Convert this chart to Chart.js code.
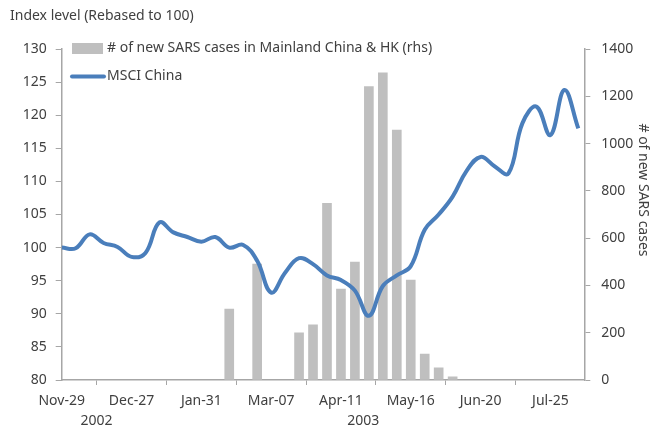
<!DOCTYPE html>
<html>
<head>
<meta charset="utf-8">
<script src="https://cdn.jsdelivr.net/npm/chart.js@4"></script>
<style>
  body { margin: 0; background: #fff; }
  #wrap { width: 663px; height: 428px; }
</style>
</head>
<body>
<div id="wrap"><canvas id="myChart"></canvas></div>
<script>
// weekly points, index 0 = first week on the axis
const msci = [100.0, 99.9, 102.0, 100.7, 100.1, 98.6, 99.2, 103.8, 102.3, 101.6,
  100.9, 101.6, 100.0, 100.4, 98.0, 93.2, 96.2, 98.4, 97.5, 95.8,
  95.1, 93.5, 89.7, 94.2, 95.8, 97.2, 102.7, 105.0, 107.7, 111.6,
  113.7, 112.3, 111.2, 118.8, 121.3, 117.0, 123.8, 118.0];

const sars = [null, null, null, null, null, null, null, null, null, null,
  null, null, 300, null, 490, null, null, 200, 233, 747,
  385, 499, 1241, 1299, 1057, 423, 110, 51, 13, null,
  null, null, null, null, null, null, null, null];

const tickLabels = ["Nov-29", "Dec-27", "Jan-31", "Mar-07", "Apr-11", "May-16", "Jun-20", "Jul-25"];
const yearLabels = ["2002", "2003"];

const FONT = "'Noto Sans', sans-serif";
const TXT = "#404040";
const AXIS = "#a6a6a6";

const extras = {
  id: "extras",
  afterDraw(chart) {
    const c = chart.ctx;
    const x = chart.scales.x;
    c.save();
    c.fillStyle = TXT;
    c.font = "14px " + FONT;
    c.textBaseline = "middle";
    c.textAlign = "left";
    c.fillText("Index level (Rebased to 100)", 10, 16);

    // legend
    c.fillStyle = "#bfbfbf";
    c.fillRect(72, 43, 31, 11);
    c.fillStyle = TXT;
    c.fillText("# of new SARS cases in Mainland China & HK (rhs)", 107, 48);
    c.strokeStyle = "#4a7ebb";
    c.lineWidth = 4;
    c.lineCap = "round";
    c.beginPath();
    c.moveTo(72, 76.5);
    c.lineTo(104, 76.5);
    c.stroke();
    c.fillText("MSCI China", 107, 76);

    // year labels
    c.textAlign = "center";
    c.fillText(yearLabels[0], x.getPixelForValue(2.5), 421);
    c.fillText(yearLabels[1], x.getPixelForValue(21.6), 421);

    // right axis title
    c.translate(643, 190);
    c.rotate(Math.PI / 2);
    c.fillText("# of new SARS cases", 0, 0);
    c.restore();
  }
};

const ctx = document.getElementById("myChart").getContext("2d");
const myChart = new Chart(ctx, {
  type: "bar",
  data: {
    datasets: [
      {
        type: "line",
        label: "MSCI China",
        data: msci.map((v, i) => ({ x: i, y: v })),
        yAxisID: "y",
        borderColor: "#4a7ebb",
        borderWidth: 4,
        pointRadius: 0,
        tension: 0.4,
        order: 0,
      },
      {
        label: "# of new SARS cases in Mainland China & HK (rhs)",
        data: sars.map((v, i) => ({ x: i, y: v })),
        yAxisID: "y1",
        backgroundColor: "#bfbfbf",
        barThickness: 9,
        order: 1,
      },
    ],
  },
  options: {
    responsive: true,
    maintainAspectRatio: false,
    animation: false,
    layout: { padding: { top: 49, left: 0, right: 0, bottom: 0 } },
    plugins: {
      legend: { display: false },
      tooltip: { enabled: false },
    },
    scales: {
      x: {
        type: "linear",
        min: 0,
        max: 37.43,
        offset: false,
        afterBuildTicks: (s) => {
          s.ticks = tickLabels.map((_, i) => ({ value: i * 5 }));
        },
        afterFit: (s) => { s.height = 48; },
        ticks: {
          autoSkip: false,
          maxRotation: 0,
          padding: 8,
          color: TXT,
          font: { family: FONT, size: 14 },
          callback: (v) => tickLabels[Math.round(v / 5)],
        },
        grid: { drawOnChartArea: false, color: AXIS, tickLength: 5 },
        border: { color: AXIS, width: 1.5 },
      },
      y: {
        position: "left",
        min: 80,
        max: 130,
        afterFit: (s) => { s.width = 61.7; },
        ticks: {
          stepSize: 5,
          padding: 9,
          color: TXT,
          font: { family: FONT, size: 14 },
        },
        grid: { drawOnChartArea: false, color: AXIS, tickLength: 6 },
        border: { color: AXIS, width: 1.5 },
      },
      y1: {
        position: "right",
        min: 0,
        max: 1400,
        afterFit: (s) => { s.width = 78.7; },
        ticks: {
          stepSize: 200,
          padding: 11,
          color: TXT,
          font: { family: FONT, size: 14 },
          callback: (v) => String(v),
        },
        grid: { drawOnChartArea: false, color: AXIS, tickLength: 6 },
        border: { color: AXIS, width: 1.5 },
      },
    },
  },
  plugins: [extras],
});
</script>
</body>
</html>
